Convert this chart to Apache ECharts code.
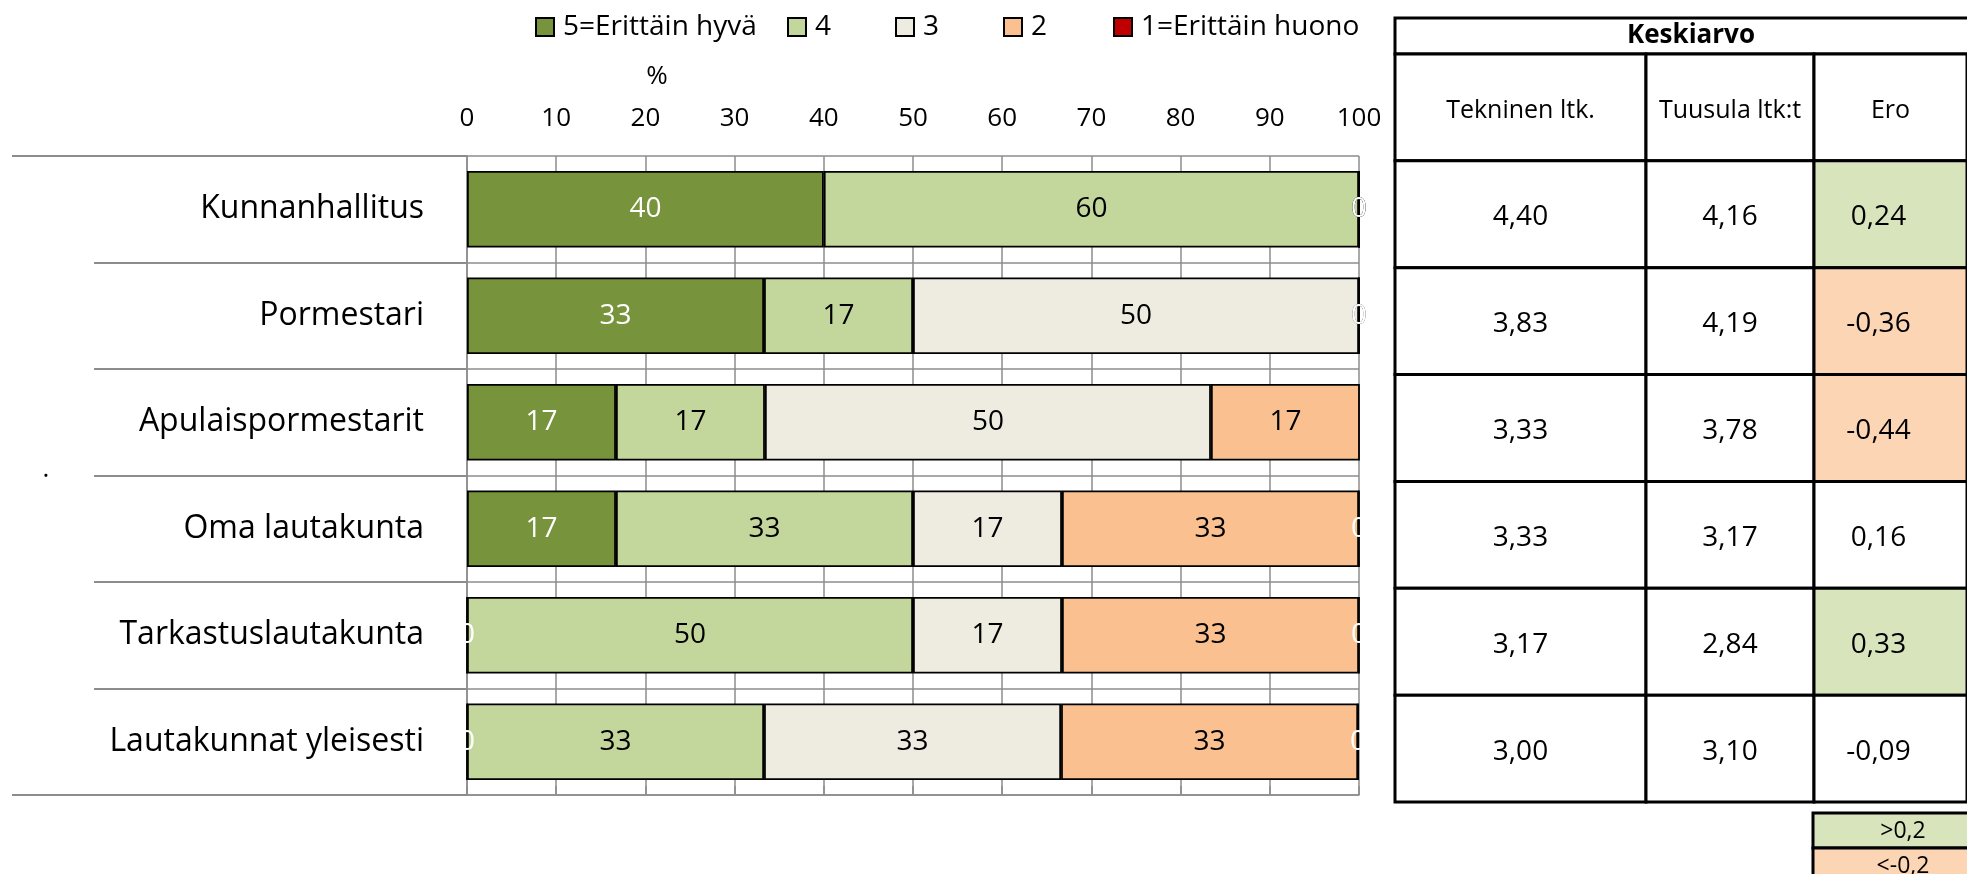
<!DOCTYPE html>
<html>
<head>
<meta charset="utf-8">
<script src="https://cdn.jsdelivr.net/npm/echarts@6/dist/echarts.min.js"></script>
<style>
  html, body { margin: 0; padding: 0; background: #fff; }
  #chart { width: 1967px; height: 874px; }
</style>
</head>
<body>
<div id="chart"></div>
<script>
// kategoriat ylhäältä alas
const categories = ["Kunnanhallitus", "Pormestari", "Apulaispormestarit", "Oma lautakunta", "Tarkastuslautakunta", "Lautakunnat yleisesti"];
const seriesNames = ["5=Erittäin hyvä", "4", "3", "2", "1=Erittäin huono"];
const xTicks = [0, 10, 20, 30, 40, 50, 60, 70, 80, 90, 100];

// osuudet %
const erittainHyva = [40, 33.3, 16.7, 16.7, 0, 0];
const hyva = [60, 16.7, 16.7, 33.3, 50, 33.3];
const kolme = [0, 50, 50, 16.7, 16.7, 33.3];
const huono = [0, 0, 16.7, 33.3, 33.3, 33.3];
const erittainHuono = [0, 0, 0, 0, 0, 0];

// keskiarvotaulukko
const tableColumns = ["Tekninen ltk.", "Tuusula ltk:t", "Ero"];
const tekninen = [4.40, 3.83, 3.33, 3.33, 3.17, 3.00];
const tuusula = [4.16, 4.19, 3.78, 3.17, 2.84, 3.10];
const ero = [0.24, -0.36, -0.44, 0.16, 0.33, -0.09];

const FONT = "Open Sans";
const GRID_GRAY = "#8c8c8c";
const colors = ["#77933C", "#C3D69B", "#EEECE1", "#FAC090", "#C00000"];
const labelColors = ["#fff", "#000", "#000", "#000", "#fff"];
const seriesData = [erittainHyva, hyva, kolme, huono, erittainHuono];

const chart = echarts.init(document.getElementById("chart"));

function fmt(v) {
  return v.toFixed(2).replace(".", ",");
}

function eroFill(v) {
  if (v > 0.2) return "#D8E4BC";
  if (v < -0.2) return "#FCD5B4";
  return "#fff";
}

// yksi taulukon sarake custom-sarjana
function tableCell(header, values, valueShift, fillOf) {
  return function (params, api) {
    const i = params.dataIndex;
    const c = api.coord([api.value(0), api.value(1)]);
    const s = api.size([1, 1]);
    const isHead = i === 0;
    return {
      type: "group",
      children: [
        {
          type: "rect",
          shape: { x: c[0] - s[0] / 2, y: c[1] - s[1] / 2, width: s[0], height: s[1] },
          style: { fill: isHead ? "#fff" : fillOf(values[i - 1]), stroke: "#000", lineWidth: 3 },
        },
        {
          type: "text",
          x: c[0] + (isHead ? 0 : valueShift),
          y: c[1] + 3,
          style: {
            text: isHead ? header : fmt(values[i - 1]),
            fontSize: isHead ? 25 : 28,
            fontFamily: FONT,
            fill: "#000",
            align: "center",
            verticalAlign: "middle",
          },
        },
      ],
    };
  };
}

const tableRows = ["head"].concat(categories);
const tableData = tableRows.map((r, i) => [0, i]);
const tableGrids = [
  { left: 1395, width: 251 },
  { left: 1646, width: 168 },
  { left: 1814, width: 173 },
];
const tableValues = [tekninen, tuusula, ero];
const tableShift = [0, 0, -12];
const tableFill = [() => "#fff", () => "#fff", eroFill];

const legendLefts = [535, 787, 895, 1003, 1113];

const option = {
  animation: false,
  textStyle: { fontFamily: FONT },
  legend: seriesNames.map((name, i) => ({
    data: [name],
    left: legendLefts[i],
    top: 13,
    padding: 0,
    itemWidth: 18,
    itemHeight: 18,
    icon: "rect",
    textStyle: { fontSize: 28, color: "#000", padding: [0, 0, 0, 4] },
  })),
  grid: [
    { left: 467, right: 608, top: 156, bottom: 79 },
  ].concat(tableGrids.map(g => ({ left: g.left, width: g.width, top: 54, height: 748 }))),
  xAxis: [
    {
      type: "value",
      gridIndex: 0,
      position: "top",
      min: 0,
      max: 100,
      interval: 10,
      axisLine: { show: true, lineStyle: { color: GRID_GRAY, width: 1.5 } },
      axisTick: { show: true, length: 9, lineStyle: { color: GRID_GRAY, width: 1.5 } },
      axisLabel: {
        fontSize: 26,
        color: "#000",
        margin: 24,
        formatter: v => (xTicks.indexOf(v) >= 0 ? String(v) : ""),
      },
      splitLine: { show: true, lineStyle: { color: GRID_GRAY, width: 1.5 } },
    },
  ].concat(tableGrids.map((g, i) => ({
    type: "category",
    gridIndex: i + 1,
    data: [tableColumns[i]],
    show: false,
  }))),
  yAxis: [
    {
      type: "category",
      gridIndex: 0,
      data: categories,
      inverse: true,
      axisLine: { show: true, lineStyle: { color: GRID_GRAY, width: 1.5 } },
      axisTick: { show: true, length: 373, lineStyle: { color: GRID_GRAY, width: 2 } },
      axisLabel: { fontSize: 32, color: "#000", margin: 43 },
      splitLine: { show: true, lineStyle: { color: GRID_GRAY, width: 1.5 } },
    },
    {
      // pitkät viivat kaavion ylä- ja alareunassa
      type: "value",
      gridIndex: 0,
      position: "left",
      min: 0,
      max: 6,
      interval: 6,
      axisLine: { show: false },
      axisLabel: { show: false },
      splitLine: { show: false },
      axisTick: { show: true, length: 455, lineStyle: { color: GRID_GRAY, width: 2 } },
    },
  ].concat(tableGrids.map((g, i) => ({
    type: "category",
    gridIndex: i + 1,
    data: tableRows,
    inverse: true,
    show: false,
  }))),
  series: seriesNames.map((name, i) => ({
    name: name,
    type: "bar",
    stack: "total",
    xAxisIndex: 0,
    yAxisIndex: 0,
    barCategoryGap: "28%",
    itemStyle: { color: colors[i], borderColor: "#000", borderWidth: 1.8 },
    label: {
      show: true,
      position: "inside",
      fontSize: 28,
      color: labelColors[i],
      formatter: p => Math.round(p.value),
    },
    data: seriesData[i],
  })).concat(tableGrids.map((g, i) => ({
    type: "custom",
    xAxisIndex: i + 1,
    yAxisIndex: i + 2,
    renderItem: tableCell(tableColumns[i], tableValues[i], tableShift[i], tableFill[i]),
    data: tableData,
  }))),
  graphic: [
    {
      type: "text",
      x: 657,
      y: 77,
      style: { text: "%", fontSize: 26, fontFamily: FONT, fill: "#000", align: "center", verticalAlign: "middle" },
    },
    {
      type: "text",
      x: 46,
      y: 470,
      style: { text: ".", fontSize: 26, fontFamily: FONT, fill: "#000", align: "center", verticalAlign: "middle" },
    },
    {
      type: "rect",
      shape: { x: 1395, y: 18, width: 592, height: 36 },
      style: { fill: "#fff", stroke: "#000", lineWidth: 3 },
    },
    {
      type: "text",
      x: 1691,
      y: 36,
      style: { text: "Keskiarvo", fontSize: 26, fontWeight: "bold", fontFamily: FONT, fill: "#000", align: "center", verticalAlign: "middle" },
    },
    {
      type: "rect",
      shape: { x: 1813, y: 813, width: 180, height: 35 },
      style: { fill: "#D8E4BC", stroke: "#000", lineWidth: 3 },
    },
    {
      type: "text",
      x: 1903,
      y: 831,
      style: { text: ">0,2", fontSize: 23, fontFamily: FONT, fill: "#000", align: "center", verticalAlign: "middle" },
    },
    {
      type: "rect",
      shape: { x: 1813, y: 848, width: 180, height: 35 },
      style: { fill: "#FCD5B4", stroke: "#000", lineWidth: 3 },
    },
    {
      type: "text",
      x: 1903,
      y: 866,
      style: { text: "<-0,2", fontSize: 23, fontFamily: FONT, fill: "#000", align: "center", verticalAlign: "middle" },
    },
  ],
};

chart.setOption(option);
</script>
</body>
</html>
